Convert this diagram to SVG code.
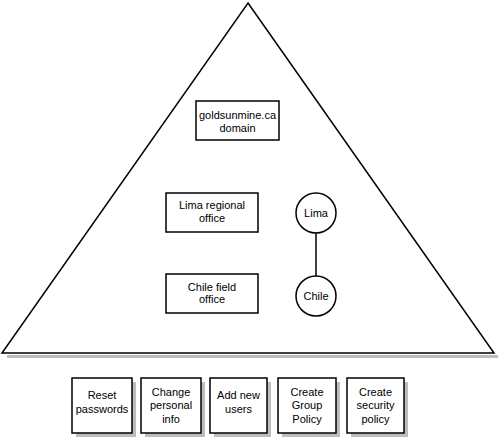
<svg xmlns="http://www.w3.org/2000/svg" width="500" height="438" viewBox="0 0 500 438">
<style>
.ln{fill:none;stroke:#000;stroke-width:1.5}
.bx{fill:#fff;stroke:#000;stroke-width:1.5}
.sh{fill:#bdbdbd;stroke:none}
.t{font-family:"Liberation Sans",Arial,sans-serif;font-size:11px;fill:#000;text-anchor:middle}
</style>
<rect width="500" height="438" fill="#fff"/>
<g id="pyramid">
<line x1="7" y1="356.5" x2="498" y2="356.5" stroke="#bdbdbd" stroke-width="3"/>
<polygon class="bx" points="248,3 494,353 2,353"/>
</g>
<g id="domain">
<rect class="bx" x="196" y="101" width="83" height="39"/>
<text class="t" x="237.5" y="119">goldsunmine.ca</text>
<text class="t" x="237.5" y="132">domain</text>
</g>
<g id="lima-office">
<rect class="bx" x="166" y="193" width="92" height="39"/>
<text class="t" x="212" y="209">Lima regional</text>
<text class="t" x="212" y="222">office</text>
</g>
<g id="chile-office">
<rect class="bx" x="166" y="274" width="92" height="39"/>
<text class="t" x="212" y="291">Chile field</text>
<text class="t" x="212" y="303">office</text>
</g>
<g id="connectors">
<line class="ln" x1="316" y1="233" x2="316" y2="276"/>
</g>
<g id="lima">
<circle class="bx" cx="316" cy="213" r="20"/>
<text class="t" x="316" y="217">Lima</text>
</g>
<g id="chile">
<circle class="bx" cx="316" cy="296" r="20"/>
<text class="t" x="316" y="300">Chile</text>
</g>
<g id="reset">
<rect class="sh" x="76" y="382" width="60" height="55"/>
<rect class="bx" x="72" y="378" width="60" height="55"/>
<text class="t" x="102" y="399">Reset</text>
<text class="t" x="102" y="413">passwords</text>
</g>
<g id="change">
<rect class="sh" x="145" y="382" width="60" height="55"/>
<rect class="bx" x="141" y="378" width="60" height="55"/>
<text class="t" x="171" y="396">Change</text>
<text class="t" x="171" y="409">personal</text>
<text class="t" x="171" y="423">info</text>
</g>
<g id="add">
<rect class="sh" x="214" y="382" width="57" height="55"/>
<rect class="bx" x="210" y="378" width="57" height="55"/>
<text class="t" x="238.5" y="399">Add new</text>
<text class="t" x="238.5" y="413">users</text>
</g>
<g id="group">
<rect class="sh" x="282" y="382" width="58" height="55"/>
<rect class="bx" x="278" y="378" width="58" height="55"/>
<text class="t" x="307" y="396">Create</text>
<text class="t" x="307" y="409">Group</text>
<text class="t" x="307" y="423">Policy</text>
</g>
<g id="security">
<rect class="sh" x="351" y="382" width="57" height="55"/>
<rect class="bx" x="347" y="378" width="57" height="55"/>
<text class="t" x="375.5" y="396">Create</text>
<text class="t" x="375.5" y="409">security</text>
<text class="t" x="375.5" y="423">policy</text>
</g>
</svg>
